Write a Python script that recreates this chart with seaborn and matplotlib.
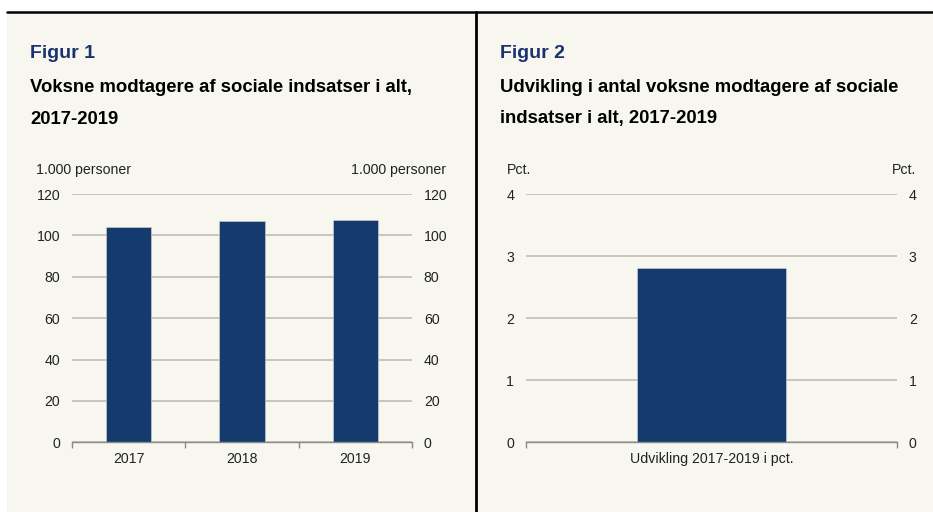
import matplotlib
matplotlib.use("Agg")
import matplotlib.pyplot as plt
import seaborn as sns
import pandas as pd
from matplotlib.patches import Rectangle
from matplotlib.lines import Line2D

# data
years = ["2017", "2018", "2019"]
recipients = [104.2, 106.8, 107.3]  # 1.000 personer
dev_label = ["Udvikling 2017-2019 i pct."]
dev_value = [2.8]  # pct.

W, H = 933, 512
BAR = "#143a6e"
CREAM = "#f7f7f0"
GRID = "#c2c2ba"
TXT = "#222222"
NAVY = "#1b3270"
FS = 10.2

sns.set_theme(style="white")
plt.rcParams["font.family"] = ["Liberation Sans", "DejaVu Sans"]

fig = plt.figure(figsize=(W / 100, H / 100), dpi=100)
fig.patch.set_facecolor("white")


def fx(x):
    return x / W


def fy(y):
    return 1 - y / H


# panel backgrounds and frame lines
fig.patches.append(Rectangle((fx(7), 0), fx(475.5 - 7), fy(12), transform=fig.transFigure,
                             facecolor=CREAM, edgecolor="none", zorder=-10))
fig.patches.append(Rectangle((fx(475.5), 0), fx(W - 475.5), fy(12), transform=fig.transFigure,
                             facecolor=CREAM, edgecolor="none", zorder=-10))
fig.lines.append(Line2D([fx(7), 1], [fy(12), fy(12)], transform=fig.transFigure,
                        color="black", lw=1.8, zorder=-5))
fig.lines.append(Line2D([fx(475.7), fx(475.7)], [0, fy(12)], transform=fig.transFigure,
                        color="black", lw=2.0, zorder=-5))


def make_axes(x0, x1):
    y_top, y_bot = 194, 442.3
    ax = fig.add_axes([fx(x0), fy(y_bot), fx(x1 - x0), (y_bot - y_top) / H])
    ax.set_facecolor("none")
    return ax


def style_axes(ax, ymax, ystep, ncat, bounds):
    ax.set_ylim(0, ymax)
    ax.set_yticks(range(0, ymax + 1, ystep))
    ax.set_xlim(-0.5, ncat - 0.5)
    ax.grid(axis="y", color=GRID, lw=1.3)
    ax.set_axisbelow(True)
    for s in ["top", "left", "right"]:
        ax.spines[s].set_visible(False)
    ax.spines["bottom"].set_color("#8a8a8a")
    ax.spines["bottom"].set_linewidth(1.0)
    ax.tick_params(axis="y", length=0, pad=8.5, labelsize=FS, labelcolor=TXT,
                   labelright=True, labelleft=True)
    ax.tick_params(axis="x", which="major", length=0, pad=7, labelsize=FS, labelcolor=TXT)
    ax.set_xticks(bounds, minor=True)
    ax.tick_params(axis="x", which="minor", bottom=True, length=4, width=1,
                   color="#8a8a8a", direction="out")
    ax.set_xlabel("")
    ax.set_ylabel("")


# Figur 1
ax1 = make_axes(72, 412)
df1 = pd.DataFrame({"year": years, "value": recipients})
sns.barplot(data=df1, x="year", y="value", color=BAR, width=0.4, saturation=1,
            edgecolor="#c8c8c8", linewidth=0.5, ax=ax1)
style_axes(ax1, 120, 20, len(years), [-0.5, 0.5, 1.5, 2.5])

# Figur 2
ax2 = make_axes(526, 897)
df2 = pd.DataFrame({"label": dev_label, "value": dev_value})
sns.barplot(data=df2, x="label", y="value", color=BAR, width=0.4, saturation=1,
            edgecolor="#c8c8c8", linewidth=0.5, ax=ax2)
style_axes(ax2, 4, 1, len(dev_label), [-0.5, 0.5])

# titles
fig.text(fx(30), fy(54), "Figur 1", color=NAVY, fontsize=14, fontweight="bold", va="center")
fig.text(fx(30), fy(88), "Voksne modtagere af sociale indsatser i alt,", color="black",
         fontsize=13.3, fontweight="bold", va="center")
fig.text(fx(30), fy(119), "2017-2019", color="black", fontsize=13.3, fontweight="bold", va="center")

fig.text(fx(500), fy(54), "Figur 2", color=NAVY, fontsize=14, fontweight="bold", va="center")
fig.text(fx(500), fy(88), "Udvikling i antal voksne modtagere af sociale", color="black",
         fontsize=13.3, fontweight="bold", va="center")
fig.text(fx(500), fy(119), "indsatser i alt, 2017-2019", color="black",
         fontsize=13.3, fontweight="bold", va="center")

# unit labels
fig.text(fx(36), fy(170), "1.000 personer", color=TXT, fontsize=FS, va="center", ha="left")
fig.text(fx(446), fy(170), "1.000 personer", color=TXT, fontsize=FS, va="center", ha="right")
fig.text(fx(507), fy(170), "Pct.", color=TXT, fontsize=FS, va="center", ha="left")
fig.text(fx(916), fy(170), "Pct.", color=TXT, fontsize=FS, va="center", ha="right")

fig.savefig("out.png", dpi=100, facecolor=fig.get_facecolor())
